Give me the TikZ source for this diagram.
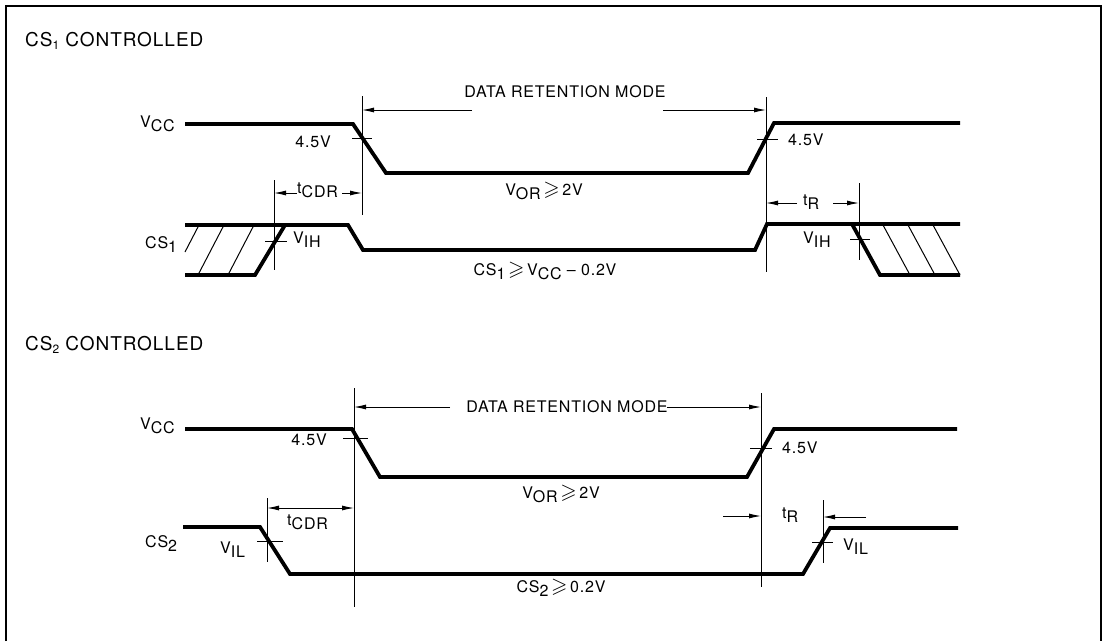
\documentclass[tikz,border=0pt]{standalone}
\usepackage{fontspec}
\usepackage{amssymb}
\setmainfont[LetterSpace=5]{TeX Gyre Heros}
\usetikzlibrary{arrows.meta}
\newcommand{\lo}[1]{\raisebox{-4.5pt}{#1}}
\newcommand{\gsl}{\,{\fontsize{21}{21}\selectfont$\geqslant$}\,}
\begin{document}
\begin{tikzpicture}[x=1pt,y=-1pt]
        \tikzstyle{every node}=[inner sep=0pt,font=\fontsize{16}{18}\selectfont]
        \tikzstyle{title}=[anchor=base west,font=\fontsize{19}{21}\selectfont]
        \tikzstyle{wave}=[line width=3.8pt,line join=miter]
        \tikzstyle{guide}=[line width=0.9pt]
        \tikzstyle{dim}=[guide,-{Latex[length=12pt,width=5pt]}]
        \tikzstyle{hatch}=[line width=1pt]

        \useasboundingbox (0,0) rectangle (1104,641);
        \draw[line width=2.6pt] (6,641) -- (6,6) -- (1101,6) -- (1101,641);

% CS1 controlled: upper timing diagram

        \node[title] (title1) at (25,46) {CS\raisebox{-3pt}{\fontsize{12}{12}\selectfont 1} CONTROLLED};
        \node[anchor=base west] (vcc1) at (140,127) {V\lo{CC}};
        \node[anchor=base west] (cs1) at (145,248) {CS\lo{1}};

        \draw[wave] (185,124) -- (353,124) -- (386,173) -- (748,173) -- (774,123) -- (960,123);
        \draw[wave] (185,275) -- (255,275) -- (285,225);
        \draw[wave] (185,225) -- (348,225) -- (363,250) -- (755,250) -- (767,224) -- (960,224);
        \draw[wave] (852,224) -- (880,275) -- (960,275);
        \draw[hatch] (185,252) -- (199,225);
        \draw[hatch] (198,275) -- (224,225);
        \draw[hatch] (228,275) -- (254,225);
        \draw[hatch] (883,225) -- (910,275);
        \draw[hatch] (908,225) -- (935,275);
        \draw[hatch] (933,225) -- (960,275);

        \coordinate (m1a) at (362,96);  \coordinate (m1b) at (362,215);
        \coordinate (m1c) at (766,97);  \coordinate (m1d) at (766,272);
        \coordinate (m1e) at (274,180); \coordinate (m1f) at (274,270);
        \coordinate (m1g) at (859,183); \coordinate (m1h) at (859,260);
        \draw[guide] (m1a) -- (m1b);
        \draw[guide] (m1c) -- (m1d);
        \draw[guide] (m1e) -- (m1f);
        \draw[guide] (m1g) -- (m1h);

        \node[anchor=base] (drm1) at (565,97) {DATA RETENTION MODE};
        \draw[dim] (472,110) -- (m1a |- 0,110);
        \draw[dim] (663,110) -- (m1c |- 0,110);

        \node[anchor=base west] (tcdr1) at (297,193) {t\lo{CDR}};
        \draw[dim] (tcdr1.west |- 0,193) -- (m1e |- 0,193);
        \draw[dim] (342,193) -- (m1a |- 0,193);
        \node[anchor=base west] (tr1) at (803,205) {t\lo{R}};
        \draw[dim] (797,203) -- (m1c |- 0,203);
        \draw[dim] (833,203) -- (m1g |- 0,203);

        \draw[guide] (352,138) -- (372,138);
        \draw[guide] (757,139) -- (778,139);
        \draw[guide] (265,241) -- (287,241);
        \draw[guide] (850,239) -- (870,239);
        \node[anchor=base east] (v45a) at (331,147) {4.5V};
        \node[anchor=base west] (v45b) at (788,145) {4.5V};
        \node[anchor=base west] (vih1) at (293,243) {V\lo{IH}};
        \node[anchor=base west] (vih2) at (803,243) {V\lo{IH}};
        \node[anchor=base] (vor1) at (544,195) {V\lo{OR}\gsl2V};
        \node[anchor=base] (cond1) at (545,275) {CS\lo{1}\gsl V\lo{CC} -- 0.2V};

% CS2 controlled: lower timing diagram

        \node[title] (title2) at (25,350) {CS\raisebox{-3pt}{\fontsize{12}{12}\selectfont 2} CONTROLLED};
        \node[anchor=base west] (vcc2) at (140,429) {V\lo{CC}};
        \node[anchor=base west] (cs2) at (145,547) {CS\lo{2}};

        \draw[wave] (185,429) -- (352,429) -- (380,477) -- (747,477) -- (774,429) -- (957,429);
        \draw[wave] (183,527) -- (260,527) -- (290,574) -- (803,574) -- (830,528) -- (958,528);

        \coordinate (m2a) at (354,388); \coordinate (m2b) at (354,607);
        \coordinate (m2c) at (761,393); \coordinate (m2d) at (761,587);
        \coordinate (m2e) at (267,498); \coordinate (m2f) at (267,562);
        \coordinate (m2g) at (823,500); \coordinate (m2h) at (823,563);
        \draw[guide] (m2a) -- (m2b);
        \draw[guide] (m2c) -- (m2d);
        \draw[guide] (m2e) -- (m2f);
        \draw[guide] (m2g) -- (m2h);

        \node[anchor=base] (drm2) at (567,412) {DATA RETENTION MODE};
        \draw[dim] (450,407) -- (m2a |- 0,407);
        \draw[dim] (667,407) -- (m2c |- 0,407);

        \node[anchor=base west] (tcdr2) at (287,525) {t\lo{CDR}};
        \draw[guide,{Latex[length=12pt,width=5pt]}-{Latex[length=12pt,width=5pt]}] (m2e |- 0,508) -- (m2a |- 0,508);
        \node[anchor=base west] (tr2) at (782,518) {t\lo{R}};
        \draw[dim] (723,516) -- (m2c |- 0,516);
        \draw[dim] (866,517) -- (m2g |- 0,517);

        \draw[guide] (343,438) -- (368,438);
        \draw[guide] (750,448) -- (772,448);
        \draw[guide] (257,541) -- (283,541);
        \draw[guide] (812,542) -- (833,542);
        \node[anchor=base east] (v45c) at (327,445) {4.5V};
        \node[anchor=base west] (v45d) at (782,453) {4.5V};
        \node[anchor=base west] (vil1) at (220,553) {V\lo{IL}};
        \node[anchor=base west] (vil2) at (843,550) {V\lo{IL}};
        \node[anchor=base] (vor2) at (561,498) {V\lo{OR}\gsl2V};
        \node[anchor=base] (cond2) at (561,592) {CS\lo{2}\gsl0.2V};

    \end{tikzpicture}
\end{document}
